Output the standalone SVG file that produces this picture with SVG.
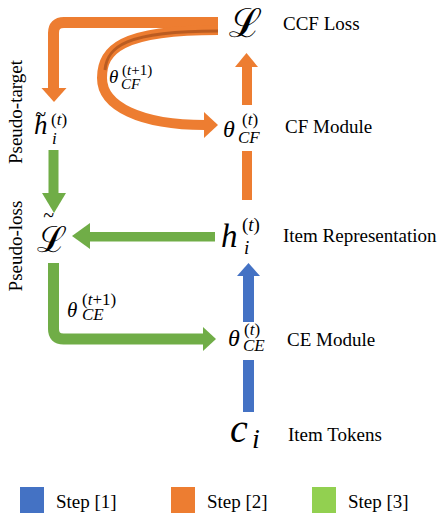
<svg xmlns="http://www.w3.org/2000/svg" width="441" height="517" viewBox="0 0 441 517">
<style>
.lbl{font-family:"Liberation Serif","Times New Roman",serif;font-size:19px;fill:#000}
.m{font-family:"Liberation Serif","Times New Roman",serif;font-style:italic;fill:#000}
.u{font-style:normal}
.cal{font-family:"DejaVu Serif","Noto Sans",serif;font-style:italic;fill:#000}
.or{stroke:#ED7D31;fill:none}
.gr{stroke:#70AD47;fill:none}
.fo{fill:#ED7D31}
.fg{fill:#70AD47}
.fb{fill:#4472C4}
</style>
<rect width="441" height="517" fill="#fff"/>
<g id="connectors">
  <path class="or" stroke-width="11" d="M218,22.5 H64 Q53.5,22.5 53.5,33 V89"/>
  <polygon class="fo" points="41.5,88 66.5,88 54,102"/>
  <path class="or" stroke-width="10" d="M218,30 C120,30 102,50 102,78 C102,106 140,125 205,125"/>
  <path d="M218,31 C125,31 107,47 105,70" stroke="#A9521C" stroke-width="3" fill="none" opacity="0.75"/>
  <polygon class="fo" points="204,112 218,125 204,138"/>
  <rect class="fo" x="242" y="66" width="10" height="39"/>
  <rect class="fo" x="242" y="151" width="10" height="49"/>
  <polygon class="fo" points="235,67 258,67 246.5,53"/>
  <rect class="fg" x="48.5" y="150" width="10" height="44"/>
  <polygon class="fg" points="42,193 66,193 54,213"/>
  <rect class="fg" x="89" y="232" width="126" height="9.5"/>
  <polygon class="fg" points="90,223 90,249 72,236"/>
  <path class="gr" stroke-width="11" d="M53.5,263 V329 Q53.5,339 63.5,339 H204"/>
  <polygon class="fg" points="203,327 203,351 216,339"/>
  <rect class="fb" x="243" y="275" width="11" height="47"/>
  <rect class="fb" x="243" y="360" width="11" height="52"/>
  <polygon class="fb" points="237,276 260,276 248.5,263"/>
</g>
<g id="node-L">
  <text class="cal" x="229" y="37" font-size="40">ℒ</text>
  <text class="lbl" x="283" y="30">CCF Loss</text>
</g>
<g id="node-thetaCF-next">
  <text class="m" x="109" y="83" font-size="19">θ</text>
  <text class="m" x="122" y="75" font-size="15"><tspan class="u">(</tspan>t<tspan class="u">+1)</tspan></text>
  <text class="m" x="121" y="89" font-size="15">CF</text>
</g>
<g id="node-thetaCF">
  <text class="m" x="223" y="137" font-size="24">θ</text>
  <text class="m" x="242" y="125" font-size="17"><tspan class="u">(</tspan>t<tspan class="u">)</tspan></text>
  <text class="m" x="238" y="143" font-size="17">CF</text>
  <text class="lbl" x="285" y="133">CF Module</text>
</g>
<g id="node-htilde">
  <text class="m" x="35" y="121" font-size="20" font-style="normal">~</text>
  <text class="m" x="34" y="134" font-size="27">h</text>
  <text class="m" x="51" y="125" font-size="17"><tspan class="u">(</tspan>t<tspan class="u">)</tspan></text>
  <text class="m" x="52" y="144" font-size="17">i</text>
  <text class="lbl" transform="translate(22,112) rotate(-90)" text-anchor="middle">Pseudo-target</text>
</g>
<g id="node-Ltilde">
  <text class="m" x="43" y="222" font-size="20" font-style="normal">~</text>
  <text class="cal" x="37" y="252" font-size="36">ℒ</text>
  <text class="lbl" transform="translate(22,246) rotate(-90)" text-anchor="middle">Pseudo-loss</text>
</g>
<g id="node-h">
  <text class="m" x="221" y="247" font-size="33">h</text>
  <text class="m" x="242" y="231" font-size="19"><tspan class="u">(</tspan>t<tspan class="u">)</tspan></text>
  <text class="m" x="244" y="254" font-size="19">i</text>
  <text class="lbl" x="283" y="242">Item Representation</text>
</g>
<g id="node-thetaCE-next">
  <text class="m" x="67" y="317" font-size="21">θ</text>
  <text class="m" x="82" y="305" font-size="17"><tspan class="u">(</tspan>t<tspan class="u">+1)</tspan></text>
  <text class="m" x="82" y="320" font-size="17">CE</text>
</g>
<g id="node-thetaCE">
  <text class="m" x="228" y="346" font-size="24">θ</text>
  <text class="m" x="244" y="335" font-size="17"><tspan class="u">(</tspan>t<tspan class="u">)</tspan></text>
  <text class="m" x="243" y="351" font-size="17">CE</text>
  <text class="lbl" x="287" y="346">CE Module</text>
</g>
<g id="node-c">
  <text class="m" x="230" y="442" font-size="40">c</text>
  <text class="m" x="252" y="448" font-size="28">i</text>
  <text class="lbl" x="288" y="441">Item Tokens</text>
</g>
<g id="legend">
  <rect x="20" y="487" width="24" height="26" fill="#4472C4"/>
  <text class="lbl" x="56" y="508">Step [1]</text>
  <rect x="171" y="487" width="24" height="26" fill="#ED7D31"/>
  <text class="lbl" x="207" y="508">Step [2]</text>
  <rect x="312" y="487" width="24" height="26" fill="#92D050"/>
  <text class="lbl" x="348" y="508">Step [3]</text>
</g>
</svg>
